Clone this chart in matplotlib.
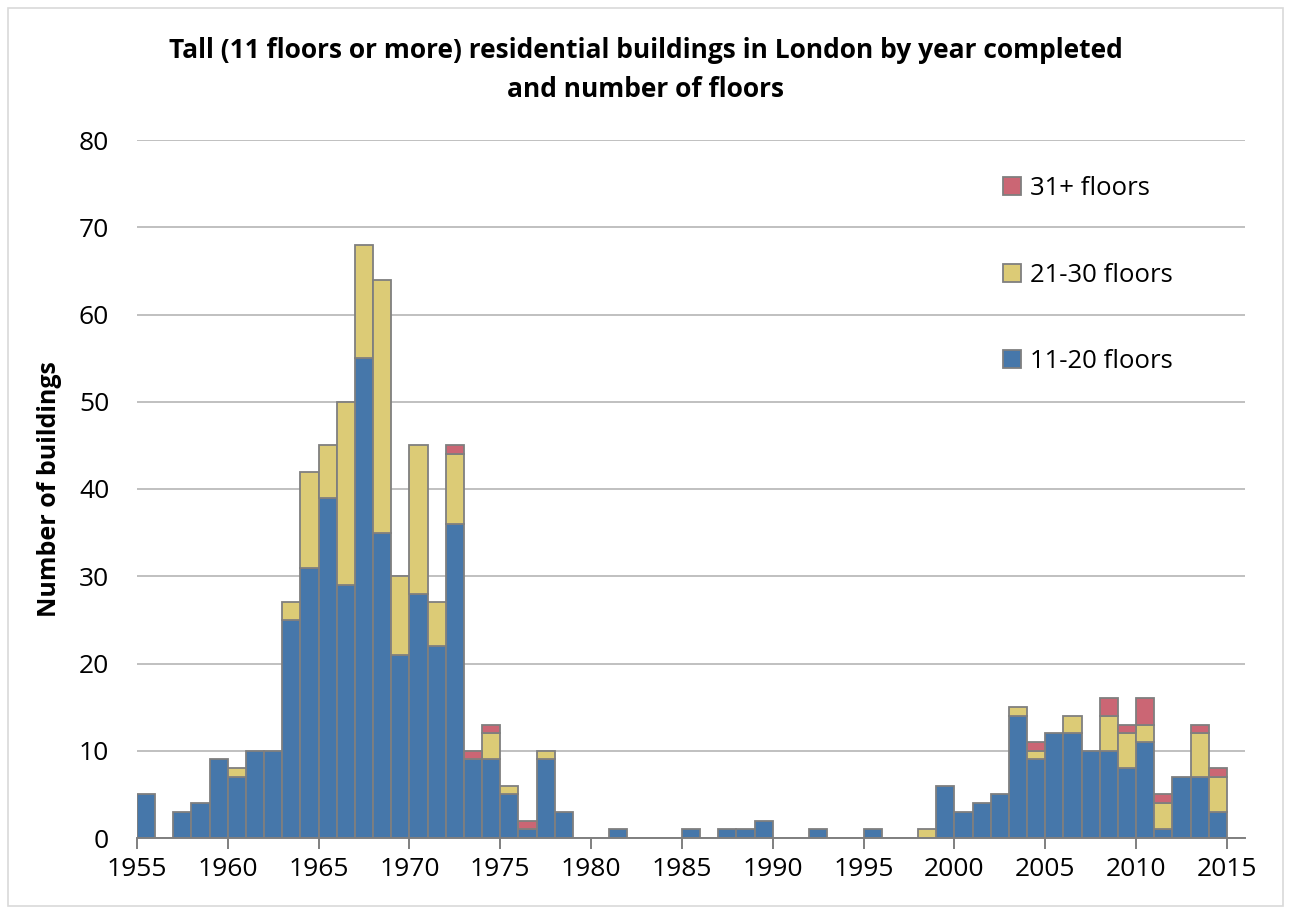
import matplotlib
matplotlib.use("Agg")
import matplotlib.pyplot as plt
from matplotlib.patches import Rectangle, Patch
import numpy as np

years = list(range(1955, 2015))
floors_11_20 = [5, 0, 3, 4, 9, 7, 10, 10, 25, 31, 39, 29, 55, 35, 21, 28, 22, 36, 9, 9,
                5, 1, 9, 3, 0, 0, 1, 0, 0, 0, 1, 0, 1, 1, 2, 0, 0, 1, 0, 0,
                1, 0, 0, 0, 6, 3, 4, 5, 14, 9, 12, 12, 10, 10, 8, 11, 1, 7, 7, 3]
floors_21_30 = [0, 0, 0, 0, 0, 1, 0, 0, 2, 11, 6, 21, 13, 29, 9, 17, 5, 8, 0, 3,
                1, 0, 1, 0, 0, 0, 0, 0, 0, 0, 0, 0, 0, 0, 0, 0, 0, 0, 0, 0,
                0, 0, 0, 1, 0, 0, 0, 0, 1, 1, 0, 2, 0, 4, 4, 2, 3, 0, 5, 4]
floors_31_plus = [0, 0, 0, 0, 0, 0, 0, 0, 0, 0, 0, 0, 0, 0, 0, 0, 0, 1, 1, 1,
                  0, 1, 0, 0, 0, 0, 0, 0, 0, 0, 0, 0, 0, 0, 0, 0, 0, 0, 0, 0,
                  0, 0, 0, 0, 0, 0, 0, 0, 0, 1, 0, 0, 0, 2, 1, 3, 1, 0, 1, 1]
series_labels = ["11-20 floors", "21-30 floors", "31+ floors"]
xtick_labels = list(range(1955, 2016, 5))
ytick_labels = list(range(0, 81, 10))

colors = ["#4677AA", "#DCCB76", "#CB6674"]
edge = "#7f7f7f"
font = "Open Sans"
plt.rcParams['font.family'] = [font, 'DejaVu Sans']

fig = plt.figure(figsize=(12.91, 9.14), dpi=100)
fig.patches.append(Rectangle((8/1291, 8/914), 1 - 16/1291, 1 - 16/914, transform=fig.transFigure,
                             fill=False, edgecolor="#d9d9d9", linewidth=1.2, zorder=0))
ax = fig.add_axes([137/1291, 1 - 838/914, (1245 - 137)/1291, (838 - 140)/914])

y = np.array(years)
b1 = np.array(floors_11_20)
b2 = np.array(floors_21_30)
b3 = np.array(floors_31_plus)
bottoms = [np.zeros_like(b1), b1, b1 + b2]
handles = []
for vals, bot, c, lab in zip([b1, b2, b3], bottoms, colors, series_labels):
    mask = vals > 0
    ax.bar(y[mask], vals[mask], bottom=bot[mask], width=1.0, align='edge', color=c,
           edgecolor=edge, linewidth=1.3, zorder=3)
    handles.append(Patch(facecolor=c, edgecolor=edge, linewidth=1.3, label=lab))

ax.set_xlim(1955, 2016)
ax.set_ylim(0, 80)
ax.set_yticks(ytick_labels)
ax.set_xticks(xtick_labels)
ax.set_xticklabels([str(v) for v in xtick_labels])
ax.yaxis.grid(True, color="#c0c0c0", linewidth=1.4, zorder=0)
ax.set_axisbelow(True)
for s in ["top", "right", "left"]:
    ax.spines[s].set_visible(False)
ax.spines["bottom"].set_color(edge)
ax.spines["bottom"].set_linewidth(1.4)
ax.spines["bottom"].set_zorder(4)
ax.tick_params(axis='x', direction='out', length=8, width=1.4, color=edge, labelsize=19, pad=6)
ax.tick_params(axis='y', length=0, labelsize=19, pad=20)

ax.set_ylabel("Number of buildings", fontsize=18, fontweight='bold', labelpad=12)
fig.text(0.5, 1 - 70/914, "Tall (11 floors or more) residential buildings in London by year completed\nand number of floors",
         ha='center', va='center', fontsize=19, fontweight='bold', linespacing=1.6)

leg = ax.legend(handles=handles[::-1], loc='upper left', bbox_to_anchor=((1003 - 137)/(1245 - 137), 1 - (176 - 140)/(838 - 140)),
                frameon=False, fontsize=18.5, labelspacing=2.4, handlelength=0.69, handleheight=0.69,
                handletextpad=0.35, borderaxespad=0, borderpad=0)

fig.savefig("out.png", dpi=100)
